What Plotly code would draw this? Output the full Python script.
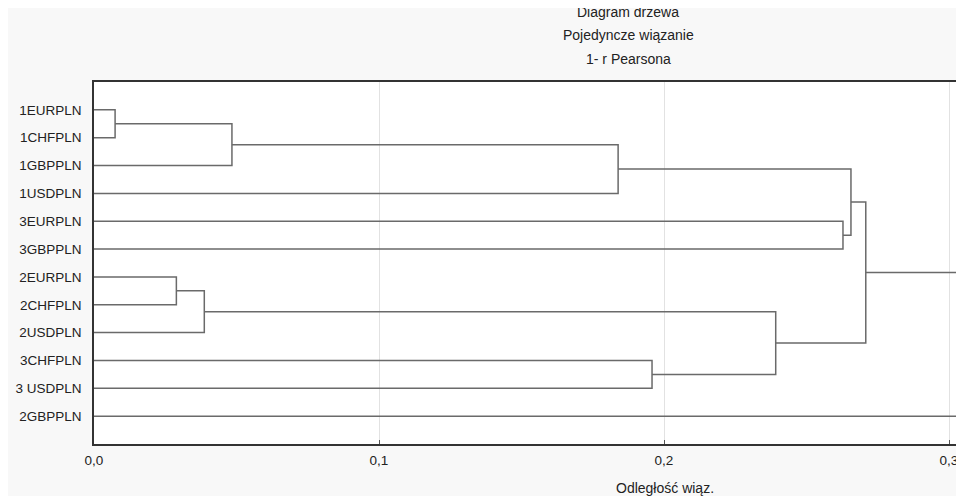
import plotly.graph_objects as go

# ---- data ----
leaves = ["1EURPLN", "1CHFPLN", "1GBPPLN", "1USDPLN", "3EURPLN", "3GBPPLN",
          "2EURPLN", "2CHFPLN", "2USDPLN", "3CHFPLN", "3 USDPLN", "2GBPPLN"]
merge_left = ["1EURPLN", "C1", "C2", "3EURPLN", "C3", "2EURPLN", "C6",
              "3CHFPLN", "C7", "C5", "C10"]
merge_right = ["1CHFPLN", "1GBPPLN", "1USDPLN", "3GBPPLN", "C4", "2CHFPLN",
               "2USDPLN", "3 USDPLN", "C8", "C9", "2GBPPLN"]
merge_height = [0.0074, 0.0484, 0.1839, 0.2628, 0.2656, 0.0289, 0.0387,
                0.1958, 0.2392, 0.2708, 0.33]
tick_vals = [0.0, 0.1, 0.2, 0.3]
tick_text = ["0,0", "0,1", "0,2", "0,3"]
title_lines = ["Diagram drzewa", "Pojedyncze wiązanie", "1- r Pearsona"]
x_title = "Odległość wiąz."

# ---- layout geometry (figure px; page adds an 8px body margin) ----
W, H = 956, 488
ML, MR, MT, MB = 86, 0, 74, 52
PW = W - ML - MR
PH = H - MT - MB


def px_x(p):
    return (p - ML) / PW


def px_y(p):
    return 1 - (p - MT) / PH


# ---- dendrogram geometry from linkage ----
node_y = {name: i for i, name in enumerate(leaves)}
node_x = {name: 0.0 for name in leaves}
xs, ys = [], []
for k, (a, b, h) in enumerate(zip(merge_left, merge_right, merge_height)):
    xs += [node_x[a], h, h, node_x[b], None]
    ys += [node_y[a], node_y[a], node_y[b], node_y[b], None]
    name = "C%d" % (k + 1)
    node_y[name] = (node_y[a] + node_y[b]) / 2
    node_x[name] = h

FONT = "Liberation Sans, Arial, sans-serif"

fig = go.Figure()
fig.add_trace(go.Scatter(x=xs, y=ys, mode="lines",
                         line=dict(color="#6a6a6a", width=1.5),
                         hoverinfo="skip", showlegend=False))

x_max = PW / 2850.0

fig.update_layout(
    width=W, height=H,
    margin=dict(l=ML, r=MR, t=MT, b=MB, autoexpand=False),
    paper_bgcolor="#f8f8f8",
    plot_bgcolor="white",
    font=dict(family=FONT, size=13, color="#222222"),
    showlegend=False,
    xaxis=dict(range=[0, x_max], tickvals=tick_vals, ticktext=tick_text,
               automargin=False,
               showgrid=True, gridcolor="#e2e2e2", gridwidth=1,
               zeroline=False, showline=True, linecolor="#333333",
               linewidth=1.5, mirror=True, ticks="inside", ticklen=4,
               tickcolor="#555555", ticklabelstandoff=3,
               tickfont=dict(size=13.5, color="#222222")),
    yaxis=dict(range=[12, -1], tickvals=list(range(len(leaves))),
               ticktext=leaves, showgrid=False, zeroline=False,
               automargin=False,
               showline=True, linecolor="#333333", linewidth=1.5,
               ticks="", ticklabelstandoff=8,
               tickfont=dict(size=13.5, color="#222222")),
)

for line, yy in zip(title_lines, [3.5, 27.5, 51.5]):
    fig.add_annotation(text=line, xref="paper", yref="paper",
                       x=px_x(620), y=px_y(yy), showarrow=False,
                       xanchor="center", yanchor="middle",
                       font=dict(size=14, color="#222222"))

fig.add_annotation(text=x_title, xref="paper", yref="paper",
                   x=px_x(657), y=px_y(480), showarrow=False,
                   xanchor="center", yanchor="middle",
                   font=dict(size=14, color="#222222"))

fig.write_html("out.html")
